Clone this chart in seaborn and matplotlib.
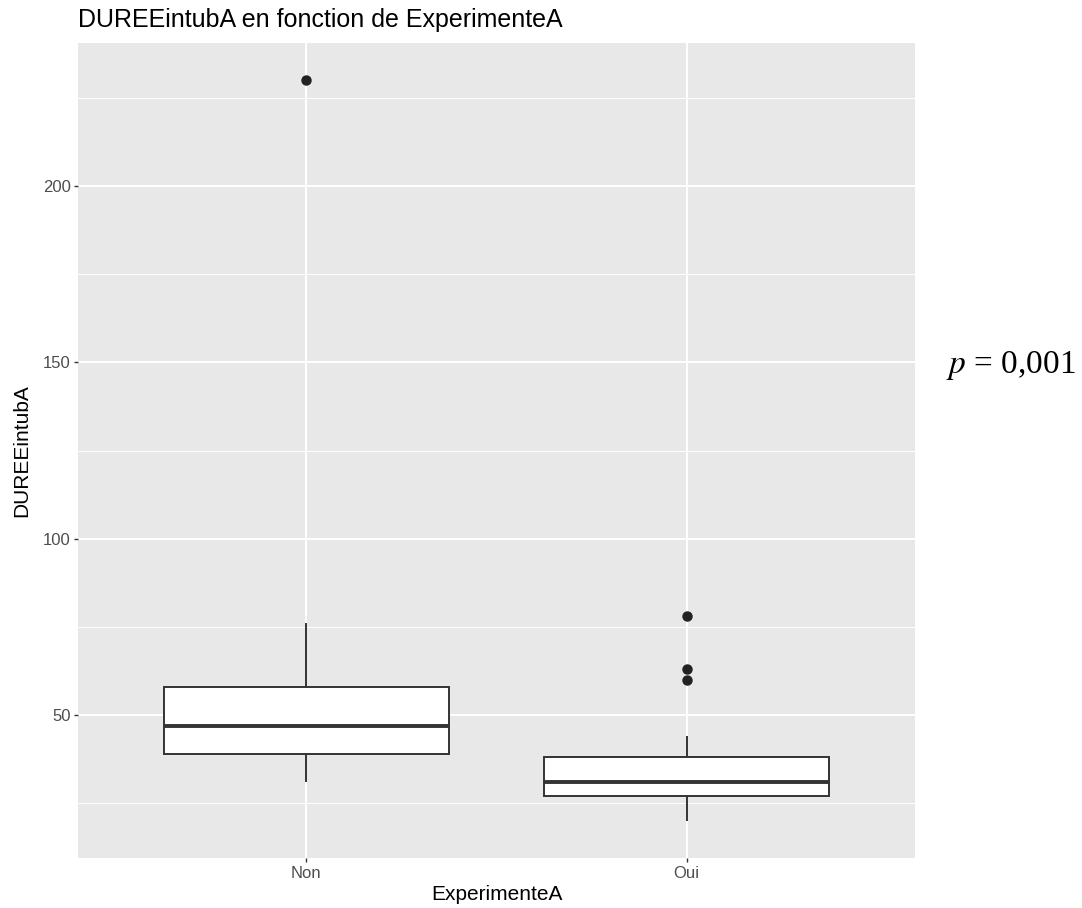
import matplotlib
matplotlib.use("Agg")
import matplotlib.pyplot as plt
import seaborn as sns
import pandas as pd
from matplotlib.ticker import FixedLocator

# Data (individual observations read so the box statistics match the picture)
non_values = [31, 35, 39, 44, 47, 52, 58, 76, 230]
oui_values = [20, 23, 25, 26, 27, 28, 29, 30, 31, 33, 35, 36, 38, 44, 60, 63, 78]
categories = ["Non", "Oui"]
major_y = [50, 100, 150, 200]
minor_y = [25, 75, 125, 175, 225]

df = pd.DataFrame({
    "ExperimenteA": ["Non"] * len(non_values) + ["Oui"] * len(oui_values),
    "DUREEintubA": non_values + oui_values,
})

sns.set_theme(style="darkgrid")
plt.rcParams["font.family"] = ["Liberation Sans", "DejaVu Sans"]
plt.rcParams["mathtext.fontset"] = "stix"

W, H = 1082, 908
fig = plt.figure(figsize=(W / 100, H / 100), dpi=100)
ax = fig.add_axes([78 / W, 1 - 858 / H, (915 - 78) / W, (858 - 43) / H])
ax.set_facecolor("#E8E8E9")

sns.boxplot(
    data=df, x="ExperimenteA", y="DUREEintubA", order=categories,
    color="white", saturation=1, linecolor="#333333", linewidth=1.4,
    width=0.75, showcaps=False, whis=1.5, ax=ax,
    medianprops=dict(linewidth=2.8, color="#333333"),
    flierprops=dict(marker="o", markerfacecolor="#222222",
                    markeredgecolor="#222222", markersize=6.5),
    zorder=3,
)

ax.set_xlim(-0.6, 1.6)
ax.set_ylim(9.5, 240.5)
ax.yaxis.set_major_locator(FixedLocator(major_y))
ax.yaxis.set_minor_locator(FixedLocator(minor_y))
ax.grid(False)
ax.grid(which="major", axis="both", color="white", linewidth=1.4, zorder=0)
ax.grid(which="minor", axis="y", color="white", linewidth=0.7, zorder=0)
ax.set_axisbelow(True)
for s in ax.spines.values():
    s.set_visible(False)

ax.tick_params(axis="both", which="major", length=3.2, width=1.0, color="#333333",
               labelsize=12, labelcolor="#4D4D4D", pad=2.2, direction="out")
ax.tick_params(axis="both", which="minor", length=0)
ax.tick_params(axis="x", bottom=True)
ax.tick_params(axis="y", left=True)

ax.set_xlabel("ExperimenteA", fontsize=15, color="black", va="center")
ax.set_ylabel("DUREEintubA", fontsize=15, color="black", va="center")
ax.xaxis.set_label_coords(0.5, (858 - 895) / 815)
ax.yaxis.set_label_coords((22 - 78) / 837, 0.5)

fig.text(78 / W, 1 - 27 / H, "DUREEintubA en fonction de ExperimenteA",
         fontsize=18, ha="left", va="baseline", color="black")

fig.text(946 / W, 1 - 373 / H, "$p$ = 0,001", fontsize=24, ha="left", va="baseline",
         family="Liberation Serif", color="black")

fig.savefig("out.png", dpi=100, facecolor="white")
